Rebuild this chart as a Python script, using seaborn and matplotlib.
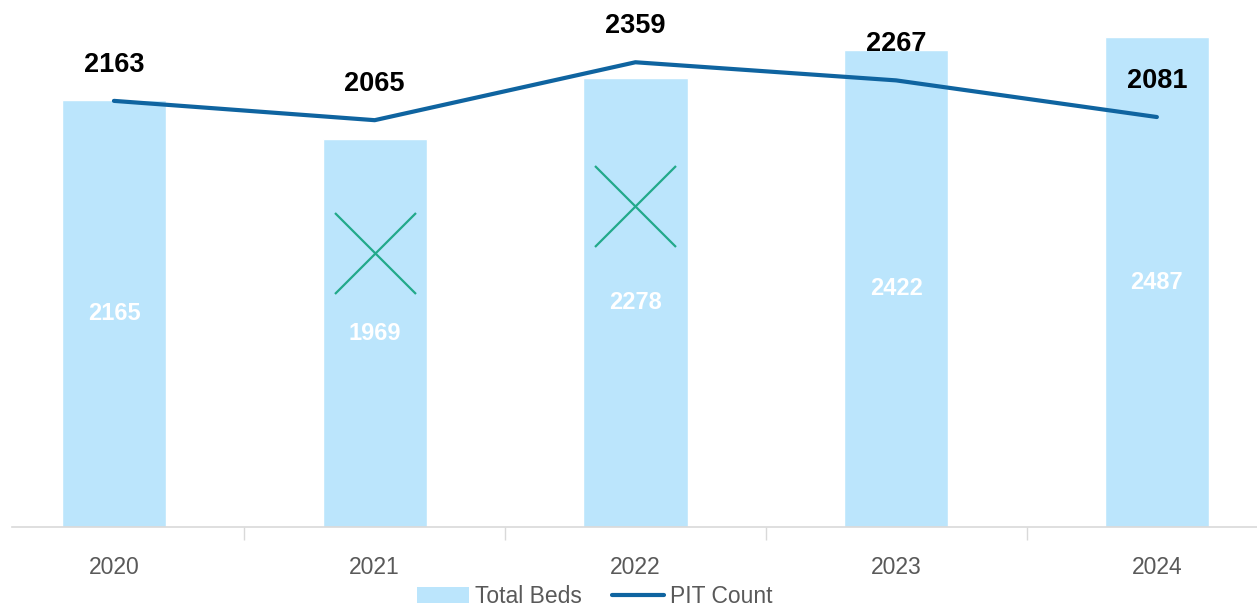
import numpy as np
import pandas as pd
import matplotlib
matplotlib.use("Agg")
import matplotlib.pyplot as plt
import seaborn as sns
from matplotlib.patches import Patch
from matplotlib.lines import Line2D

years = ["2020", "2021", "2022", "2023", "2024"]
total_beds = [2165, 1969, 2278, 2422, 2487]
pit_count = [2163, 2065, 2359, 2267, 2081]
marker_years = ["2021", "2022"]
marker_vals = [1391, 1629]

BAR_COLOR = "#BBE5FC"
LINE_COLOR = "#0F64A0"
X_COLOR = "#22A98A"

sns.set_theme(style="white")
plt.rcParams["font.family"] = ["Liberation Sans", "DejaVu Sans"]

df = pd.DataFrame({"year": years, "beds": total_beds, "pit": pit_count})
pos = {y: i for i, y in enumerate(years)}

fig = plt.figure(figsize=(12.57, 6.09), dpi=100)
ax = fig.add_axes([0, 0.1346, 1, 0.8654])

sns.barplot(data=df, x="year", y="beds", color=BAR_COLOR, width=0.4,
            saturation=1, ax=ax)
sns.lineplot(x=np.arange(len(years)), y=pit_count, color=LINE_COLOR,
             linewidth=3, ax=ax)
sns.scatterplot(x=[pos[y] for y in marker_years], y=marker_vals, marker="x",
                s=3400, color=X_COLOR, linewidth=1.6, ax=ax)

for i, v in enumerate(total_beds):
    ax.text(i, v / 2, str(v), ha="center", va="center", color="white",
            fontsize=17, fontweight="bold")
for i, v in enumerate(pit_count):
    ax.annotate(str(v), (i, v), xytext=(0, 26), textcoords="offset points",
                ha="center", va="center", color="black", fontsize=19.5,
                fontweight="bold")

ax.set_xlim(-0.437, 4.384)
ax.set_ylim(0, 2675)
ax.set_xlabel("")
ax.set_ylabel("")
ax.set_yticks([])
ax.tick_params(axis="x", length=0, labelsize=16.5, labelcolor="#595959", pad=21)
for s in ["top", "right", "left"]:
    ax.spines[s].set_visible(False)
ax.spines["bottom"].set_color("#D9D9D9")
ax.spines["bottom"].set_linewidth(1.2)
ax.spines["bottom"].set_bounds(-0.39, 4.384)

sep = np.arange(0.5, len(years) - 1, 1.0)
ax.vlines(sep, -0.024, 0, transform=ax.get_xaxis_transform(),
          colors="#D9D9D9", linewidth=1, clip_on=False)

handles = [Patch(facecolor=BAR_COLOR, edgecolor="none", label="Total Beds"),
           Line2D([0], [0], color=LINE_COLOR, linewidth=3, label="PIT Count")]
leg = fig.legend(handles=handles, loc="center", bbox_to_anchor=(0.473, 0.021),
                 ncol=2, frameon=False, fontsize=16.5, handlelength=2.3,
                 handletextpad=0.25, columnspacing=1.3)
for t in leg.get_texts():
    t.set_color("#595959")

fig.savefig("out.png", dpi=100)
